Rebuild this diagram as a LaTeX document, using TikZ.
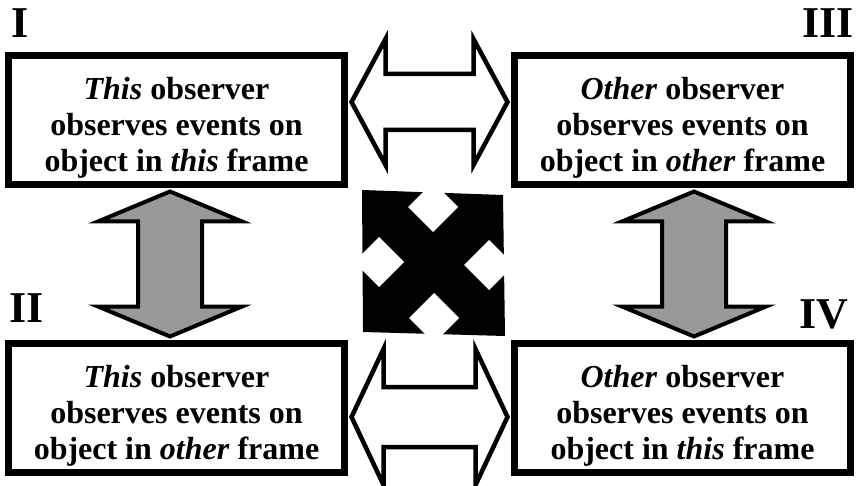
\documentclass[tikz,border=0pt]{standalone}
\usepackage{fontspec}
\setmainfont{Liberation Serif}
\usetikzlibrary{calc}
\definecolor{arrowgray}{RGB}{153,153,153}
\begin{document}
\begin{tikzpicture}[x=1pt,y=-1pt,
  box/.style={draw, line width=7pt, minimum width=336pt, minimum height=129pt, inner sep=0pt},
  txt/.style={font=\bfseries\fontsize{32}{36}\selectfont, align=center, inner sep=0pt},
  lab/.style={font=\bfseries\fontsize{44}{44}\selectfont, inner sep=0pt},
  harrow/.style={draw, line width=4.5pt, fill=white, line join=miter},
  varrow/.style={draw, line width=4pt, fill=arrowgray, line join=miter}]
\useasboundingbox (0,0) rectangle (856,486);

% the four frames
\node[box] (I)   at (176.5,120) {};
\node[box] (II)  at (176.5,408) {};
\node[box] (III) at (682.5,120) {};
\node[box] (IV)  at (682.5,408) {};

\node[txt] (tI)   at ([yshift=-7.6pt]I.center)   {\textit{This} observer\\observes events on\\object in \textit{this} frame};
\node[txt] (tII)  at ([yshift=-7.6pt]II.center)  {\textit{This} observer\\observes events on\\object in \textit{other} frame};
\node[txt] (tIII) at ([yshift=-7.6pt]III.center) {\textit{Other} observer\\observes events on\\object in \textit{other} frame};
\node[txt] (tIV)  at ([yshift=-7.6pt]IV.center)  {\textit{Other} observer\\observes events on\\object in \textit{this} frame};

% roman numerals
\node[lab, anchor=base west] (lI)   at (11,38)   {I};
\node[lab, anchor=base east] (lIII) at (854,38)  {III};
\node[lab, anchor=base west] (lII)  at (9,322)   {II};
\node[lab, anchor=base west] (lIV)  at (799,328) {IV};

% horizontal double arrows (white)
\coordinate (hL) at ($(I.east)+(3.5,-18)$);
\coordinate (hR) at ($(III.west)+(-3.5,-18)$);
\draw[harrow] (hL) -- ++(34,-63) -- ++(0,35) -- ($(hR)+(-34,-28)$) -- ++(0,-35)
  -- (hR) -- ++(-34,63) -- ++(0,-35) -- ($(hL)+(34,28)$) -- ++(0,35) -- cycle;

\coordinate (bL) at ($(II.east)+(3.5,9)$);
\coordinate (bR) at ($(IV.west)+(-3.5,9)$);
\draw[harrow] (bL) -- ++(32,-68) -- ++(0,38) -- ($(bR)+(-32,-30)$) -- ++(0,-38)
  -- (bR) -- ++(-32,68) -- ++(0,-38) -- ($(bL)+(32,30)$) -- ++(0,38) -- cycle;

% vertical double arrows (grey)
\coordinate (vT) at ($(I.south)+(-6.5,3.5)$);
\coordinate (vB) at ($(II.north)+(-6.5,-3.5)$);
\draw[varrow] (vT) -- ++(72,30) -- ++(-40,0) -- ($(vB)+(32,-30)$) -- ++(40,0)
  -- (vB) -- ++(-72,-30) -- ++(40,0) -- ($(vT)+(-32,30)$) -- ++(-40,0) -- cycle;

\coordinate (wT) at ($(III.south)+(11.5,3.5)$);
\coordinate (wB) at ($(IV.north)+(11.5,-3.5)$);
\draw[varrow] (wT) -- ++(72,30) -- ++(-40,0) -- ($(wB)+(32,-30)$) -- ++(40,0)
  -- (wB) -- ++(-72,-30) -- ++(40,0) -- ($(wT)+(-32,30)$) -- ++(-40,0) -- cycle;

% central four-way emblem
\fill[black] (362,190) -- (503,195) -- (505,336) -- (363,332) -- cycle;
\fill[white] (433,182) -- (458,207) -- (433,232) -- (408,207) -- cycle;
\fill[white] (379,237) -- (404,262) -- (379,287) -- (354,262) -- cycle;
\fill[white] (489,240) -- (514,265) -- (489,290) -- (464,265) -- cycle;
\fill[white] (434,293) -- (459,318) -- (434,343) -- (409,318) -- cycle;
\end{tikzpicture}
\end{document}
